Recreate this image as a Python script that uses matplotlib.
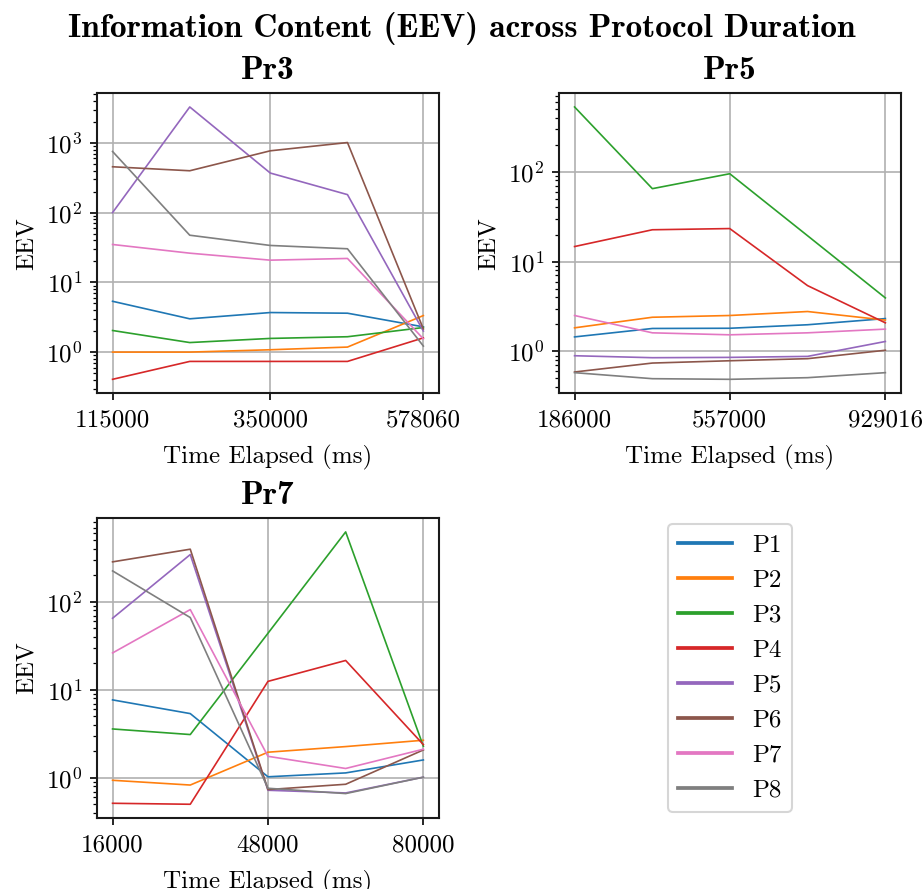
import numpy as np
import matplotlib
matplotlib.use('Agg')
import matplotlib.pyplot as plt

# data
participants = ['P1', 'P2', 'P3', 'P4', 'P5', 'P6', 'P7', 'P8']

pr3_time = [115000, 230000, 350000, 465000, 578060]
pr3_eev = [
    [5.35, 3.0, 3.69, 3.61, 2.30],
    [1.0, 1.0, 1.08, 1.18, 3.34],
    [2.04, 1.37, 1.57, 1.66, 2.25],
    [0.407, 0.735, 0.735, 0.735, 1.6],
    [100, 3270, 369, 181, 2.0],
    [454, 398, 769, 1010, 2.15],
    [34.9, 26.2, 20.8, 22.0, 1.55],
    [752, 47.4, 33.8, 30.3, 1.22],
]

pr5_time = [186000, 372000, 557000, 743000, 929016]
pr5_eev = [
    [1.45, 1.80, 1.81, 1.98, 2.32],
    [1.83, 2.40, 2.51, 2.78, 2.23],
    [526, 64.8, 95, 19.4, 3.94],
    [14.7, 22.6, 23.3, 5.4, 2.08],
    [0.895, 0.851, 0.858, 0.88, 1.29],
    [0.59, 0.742, 0.787, 0.83, 1.03],
    [2.51, 1.61, 1.53, 1.61, 1.77],
    [0.58, 0.497, 0.489, 0.51, 0.58],
]

pr7_time = [16000, 32000, 48000, 64000, 80000]
pr7_eev = [
    [7.7, 5.38, 1.03, 1.14, 1.60],
    [0.94, 0.83, 1.96, 2.27, 2.68],
    [3.6, 3.11, 44, 624, 2.29],
    [0.515, 0.502, 12.5, 21.6, 2.39],
    [65.2, 345, 0.724, 0.675, 1.02],
    [285, 397, 0.737, 0.847, 2.08],
    [26.3, 81.8, 1.76, 1.28, 2.12],
    [225, 66.4, 0.763, 0.664, 1.02],
]

protocols = ['Pr3', 'Pr5', 'Pr7']
times = [pr3_time, pr5_time, pr7_time]
eevs = [pr3_eev, pr5_eev, pr7_eev]

plt.rcParams['font.family'] = 'serif'
plt.rcParams['font.serif'] = ['cmr10']
plt.rcParams['mathtext.fontset'] = 'cm'
plt.rcParams['axes.formatter.use_mathtext'] = True
plt.rcParams['font.size'] = 12
plt.rcParams['axes.linewidth'] = 1.0
plt.rcParams['axes.edgecolor'] = '#1a1a1a'

fig = plt.figure(figsize=(924 / 150, 889 / 150), dpi=150)
positions = [
    [0.105, 0.558, 0.370, 0.337],
    [0.605, 0.558, 0.370, 0.337],
    [0.105, 0.080, 0.370, 0.337],
]

handles = []
for pos, name, t, eev in zip(positions, protocols, times, eevs):
    ax = fig.add_axes(pos)
    lines = []
    for label, vals in zip(participants, eev):
        ln, = ax.plot(t, vals, linewidth=0.8, label=label)
        lines.append(ln)
    handles = lines
    ax.set_yscale('log')
    ax.set_xticks([t[0], t[2], t[-1]])
    ax.set_xticklabels([str(t[0]), str(t[2]), str(t[-1])])
    ax.tick_params(axis='x', pad=4.5)
    ax.grid(True, which='major')
    ax.set_xlabel('Time Elapsed (ms)', labelpad=6.5)
    ax.set_ylabel('EEV')
    ax.set_title(name, fontname='cmb10', fontsize=16, pad=7)

# legend in the empty fourth slot
lax = fig.add_axes([0.605, 0.080, 0.370, 0.337])
lax.axis('off')
leg = lax.legend(handles, participants, loc='center', fontsize=12, handlelength=2.15,
                 labelspacing=0.5)
for h in leg.get_lines():
    h.set_linewidth(1.8)

fig.suptitle('Information Content (EEV) across Protocol Duration', fontname='cmb10',
             fontsize=16, y=0.987)

fig.savefig('out.png', dpi=150)
